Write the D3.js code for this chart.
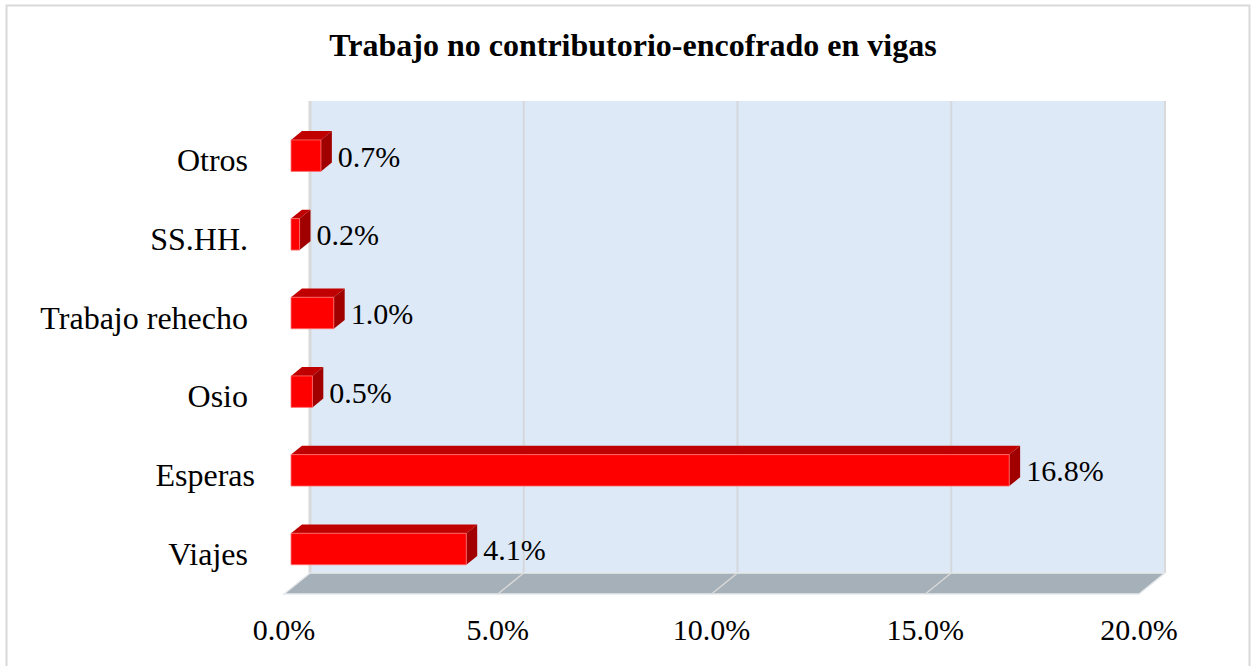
<!DOCTYPE html>
<html>
<head>
<meta charset="utf-8">
<script src="https://cdn.jsdelivr.net/npm/d3@7"></script>
<style>
  body { margin: 0; background: #fff; }
  svg { display: block; font-family: "Liberation Serif", "Times New Roman", serif; }
</style>
</head>
<body>
<div id="chart"></div>
<script>
// data
const categories = ['Viajes', 'Esperas', 'Osio', 'Trabajo rehecho', 'SS.HH.', 'Otros'];
const values = [4.1, 16.8, 0.5, 1.0, 0.2, 0.7];
const ticks = [0, 5, 10, 15, 20];

const W = 1252, H = 666;
const depth = {x: 26, y: -21};   // full depth of the 3d box
const bar = {z0: 0.27, z1: 0.69, thick: 0.4};

const svg = d3.select('#chart').append('svg')
  .attr('width', W)
  .attr('height', H);

// outer border
svg.append('path')
  .attr('d', 'M6.5,670 V5.5 H1249.5 V670')
  .attr('fill', 'none')
  .attr('stroke', '#d9d9d9')
  .attr('stroke-width', 2);

svg.append('text')
  .attr('x', 633).attr('y', 56)
  .attr('text-anchor', 'middle')
  .attr('font-weight', 'bold')
  .attr('font-size', 32)
  .text('Trabajo no contributorio-encofrado en vigas');

// front plane scales
const x = d3.scaleLinear().domain([0, 20]).range([284, 1139]);
const y = d3.scaleBand().domain(categories).range([594, 122]);

// projection: value, screen y on front plane, depth fraction
const P = (px, py, z) => [px + z * depth.x, py + z * depth.y];
const poly = pts => 'M' + pts.map(p => p.join(',')).join('L') + 'Z';

const yTop = y.range()[1], yBot = y.range()[0];

// back wall
svg.append('path')
  .attr('d', poly([P(x(0), yTop, 1), P(x(20), yTop, 1), P(x(20), yBot, 1), P(x(0), yBot, 1)]))
  .attr('fill', '#dee9f7');

// gridlines on wall
svg.selectAll('.grid')
  .data(ticks.slice(1, -1))
  .enter().append('line')
  .attr('class', 'grid')
  .attr('x1', d => P(x(d), yTop, 1)[0])
  .attr('x2', d => P(x(d), yBot, 1)[0])
  .attr('y1', P(0, yTop, 1)[1])
  .attr('y2', P(0, yBot, 1)[1])
  .attr('stroke', '#d4d8dd')
  .attr('stroke-width', 2);

// wall edges
[0, 20].forEach(v => {
  svg.append('line')
    .attr('x1', P(x(v), yTop, 1)[0]).attr('x2', P(x(v), yBot, 1)[0])
    .attr('y1', P(0, yTop, 1)[1]).attr('y2', P(0, yBot, 1)[1])
    .attr('stroke', '#d9d9d9')
    .attr('stroke-width', v === 0 ? 3 : 2);
});

// floor
svg.append('path')
  .attr('d', poly([P(x(0), yBot, 0), P(x(20), yBot, 0), P(x(20), yBot, 1), P(x(0), yBot, 1)]))
  .attr('fill', '#a6b0b8')
  .attr('stroke', '#e6e9ec')
  .attr('stroke-width', 1.5);

svg.selectAll('.fgrid')
  .data(ticks.slice(1, -1))
  .enter().append('line')
  .attr('class', 'fgrid')
  .attr('x1', d => P(x(d), yBot, 0)[0])
  .attr('y1', d => P(x(d), yBot, 0)[1])
  .attr('x2', d => P(x(d), yBot, 1)[0])
  .attr('y2', d => P(x(d), yBot, 1)[1])
  .attr('stroke', '#d9d9d9')
  .attr('stroke-width', 1.5);

// bars
const bars = svg.selectAll('.bar')
  .data(categories.map((c, i) => ({c, v: values[i]})))
  .enter().append('g')
  .attr('class', 'bar');

const bw = y.bandwidth() * bar.thick;
const by0 = d => y(d.c) + (y.bandwidth() - bw) / 2;
const by1 = d => by0(d) + bw;

// top face
bars.append('path')
  .attr('d', d => poly([P(x(0), by0(d), bar.z0), P(x(d.v), by0(d), bar.z0), P(x(d.v), by0(d), bar.z1), P(x(0), by0(d), bar.z1)]))
  .attr('fill', '#c00000');
// side face
bars.append('path')
  .attr('d', d => poly([P(x(d.v), by0(d), bar.z0), P(x(d.v), by0(d), bar.z1), P(x(d.v), by1(d), bar.z1), P(x(d.v), by1(d), bar.z0)]))
  .attr('fill', '#a00000');
// front face
bars.append('path')
  .attr('d', d => poly([P(x(0), by0(d), bar.z0), P(x(d.v), by0(d), bar.z0), P(x(d.v), by1(d), bar.z0), P(x(0), by1(d), bar.z0)]))
  .attr('fill', '#ff0000')
  .attr('stroke', '#ff7070')
  .attr('stroke-width', 0.8);

// value labels
bars.append('text')
  .attr('x', d => P(x(d.v), 0, bar.z1)[0] + 6)
  .attr('y', d => P(0, (by0(d) + by1(d)) / 2, bar.z0)[1] + 11)
  .attr('font-size', 30)
  .text(d => d.v.toFixed(1) + '%');

// category labels
svg.selectAll('.cat')
  .data(categories)
  .enter().append('text')
  .attr('class', 'cat')
  .attr('x', d => d === 'Esperas' ? 255 : 248)
  .attr('y', d => y(d) + y.bandwidth() / 2 + 10)
  .attr('text-anchor', 'end')
  .attr('font-size', 32)
  .text(d => d);

// value axis labels
svg.selectAll('.tick')
  .data(ticks)
  .enter().append('text')
  .attr('class', 'tick')
  .attr('x', d => x(d))
  .attr('y', 640)
  .attr('text-anchor', 'middle')
  .attr('font-size', 30)
  .text(d => d.toFixed(1) + '%');
</script>
</body>
</html>
